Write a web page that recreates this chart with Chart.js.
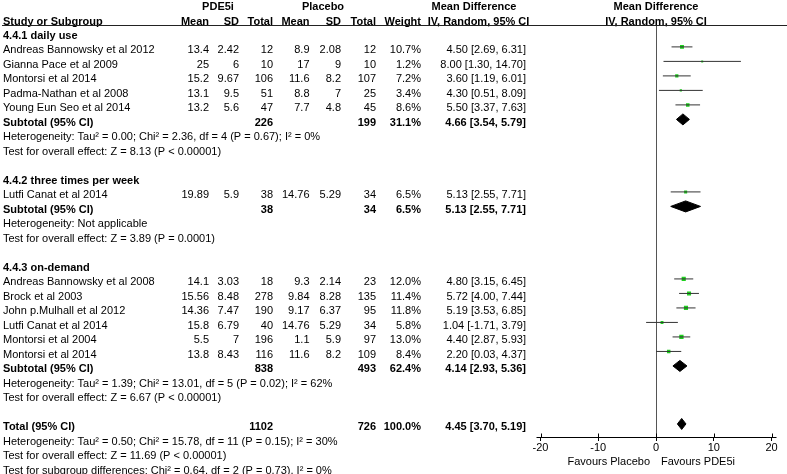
<!DOCTYPE html>
<html>
<head>
<meta charset="utf-8">
<script src="https://cdn.jsdelivr.net/npm/chart.js@4.4.0/dist/chart.umd.min.js"></script>
<style>
  html, body { margin: 0; padding: 0; background: #fff; }
  #wrap { width: 787px; height: 474px; position: relative; }
</style>
</head>
<body>
<div id="wrap"><canvas id="chart"></canvas></div>
<script>
// studies (row = line index in the table)
const studyNames = [
  'Andreas Bannowsky et al 2012', 'Gianna Pace et al 2009', 'Montorsi et al 2014',
  'Padma-Nathan et al 2008', 'Young Eun Seo et al 2014',
  'Lutfi Canat et al 2014',
  'Andreas Bannowsky et al 2008', 'Brock et al 2003', 'John p.Mulhall et al 2012',
  'Lutfi Canat et al 2014', 'Montorsi et al 2004', 'Montorsi et al 2014'
];
const studyRows = [1, 2, 3, 4, 5, 11, 17, 18, 19, 20, 21, 22];
const pdeMean = [13.4, 25, 15.2, 13.1, 13.2, 19.89, 14.1, 15.56, 14.36, 15.8, 5.5, 13.8];
const pdeSD = [2.42, 6, 9.67, 9.5, 5.6, 5.9, 3.03, 8.48, 7.47, 6.79, 7, 8.43];
const pdeTotal = [12, 10, 106, 51, 47, 38, 18, 278, 190, 40, 196, 116];
const plaMean = [8.9, 17, 11.6, 8.8, 7.7, 14.76, 9.3, 9.84, 9.17, 14.76, 1.1, 11.6];
const plaSD = [2.08, 9, 8.2, 7, 4.8, 5.29, 2.14, 8.28, 6.37, 5.29, 5.9, 8.2];
const plaTotal = [12, 10, 107, 25, 45, 34, 23, 135, 95, 34, 97, 109];
const weights = [10.7, 1.2, 7.2, 3.4, 8.6, 6.5, 12.0, 11.4, 11.8, 5.8, 13.0, 8.4];
const meanDiff = [4.50, 8.00, 3.60, 4.30, 5.50, 5.13, 4.80, 5.72, 5.19, 1.04, 4.40, 2.20];
const ciLow = [2.69, 1.30, 1.19, 0.51, 3.37, 2.55, 3.15, 4.00, 3.53, -1.71, 2.87, 0.03];
const ciHigh = [6.31, 14.70, 6.01, 8.09, 7.63, 7.71, 6.45, 7.44, 6.85, 3.79, 5.93, 4.37];

// subtotals and total
const pooledLabels = ['Subtotal (95% CI)', 'Subtotal (95% CI)', 'Subtotal (95% CI)', 'Total (95% CI)'];
const pooledRows = [6, 12, 23, 27];
const pooledPdeTotal = [226, 38, 838, 1102];
const pooledPlaTotal = [199, 34, 493, 726];
const pooledWeight = [31.1, 6.5, 62.4, 100.0];
const pooledMd = [4.66, 5.13, 4.14, 4.45];
const pooledLow = [3.54, 2.55, 2.93, 3.70];
const pooledHigh = [5.79, 7.71, 5.36, 5.19];

const groupTitles = ['4.4.1 daily use', '4.4.2 three times per week', '4.4.3 on-demand'];
const groupRows = [0, 10, 16];

const noteTexts = [
  'Heterogeneity: Tau² = 0.00; Chi² = 2.36, df = 4 (P = 0.67); I² = 0%',
  'Test for overall effect: Z = 8.13 (P < 0.00001)',
  'Heterogeneity: Not applicable',
  'Test for overall effect: Z = 3.89 (P = 0.0001)',
  'Heterogeneity: Tau² = 1.39; Chi² = 13.01, df = 5 (P = 0.02); I² = 62%',
  'Test for overall effect: Z = 6.67 (P < 0.00001)',
  'Heterogeneity: Tau² = 0.50; Chi² = 15.78, df = 11 (P = 0.15); I² = 30%',
  'Test for overall effect: Z = 11.69 (P < 0.00001)',
  'Test for subgroup differences: Chi² = 0.64, df = 2 (P = 0.73), I² = 0%'
];
const noteRows = [7, 8, 13, 14, 24, 25, 28, 29, 30];

const xTicks = [-20, -10, 0, 10, 20];

const FONT = '"Liberation Sans", Arial, sans-serif';
const DIAMOND_H = 0.38; // половина высоты ромба, в строках
const TEXT_DY = 3.5;    // текст в строке чуть ниже маркеров

const fmtCI = (m, l, h) => m.toFixed(2) + ' [' + l.toFixed(2) + ', ' + h.toFixed(2) + ']';

// Наборы данных: линии ДИ, квадраты, ромбы
const datasets = [];
studyRows.forEach((r, i) => {
  datasets.push({
    data: [{ x: ciLow[i], y: r }, { x: ciHigh[i], y: r }],
    showLine: true, borderColor: '#333', borderWidth: 1, pointRadius: 0
  });
});
datasets.push({
  data: studyRows.map((r, i) => ({ x: meanDiff[i], y: r })),
  pointStyle: 'rect',
  pointRadius: weights.map(w => Math.max(2, 1.2 * Math.sqrt(w)) / Math.SQRT2),
  backgroundColor: '#1ed21e', borderWidth: 0
});
pooledRows.forEach((r, i) => {
  datasets.push({
    data: [
      { x: pooledLow[i], y: r }, { x: pooledMd[i], y: r - DIAMOND_H },
      { x: pooledHigh[i], y: r }, { x: pooledMd[i], y: r + DIAMOND_H },
      { x: pooledLow[i], y: r }
    ],
    showLine: true, fill: 'shape', borderColor: '#000', backgroundColor: '#000',
    borderWidth: 1, pointRadius: 0, tension: 0
  });
});

// Текст таблицы и детали оси
const tablePlugin = {
  id: 'table',
  afterDraw(chart) {
    const ctx = chart.ctx;
    const ys = chart.scales.y;
    const xs = chart.scales.x;
    const area = chart.chartArea;
    const col = { pM: 209, pSD: 239, pT: 273, cM: 309.5, cSD: 341, cT: 376, w: 421, ci: 526 };
    const put = (s, x, y, align, bold) => {
      ctx.font = (bold ? 'bold ' : '') + '11px ' + FONT;
      ctx.textAlign = align;
      ctx.fillText(String(s), x, y);
    };
    const rowY = r => ys.getPixelForValue(r) + TEXT_DY;
    ctx.save();
    ctx.fillStyle = '#000';
    ctx.textBaseline = 'middle';

    // шапка
    put('PDE5i', 218, 7, 'center', true);
    put('Placebo', 323, 7, 'center', true);
    put('Mean Difference', 474, 7, 'center', true);
    put('Mean Difference', 656, 7, 'center', true);
    put('Study or Subgroup', 3, 21.5, 'left', true);
    put('Mean', col.pM, 21.5, 'right', true);
    put('SD', col.pSD, 21.5, 'right', true);
    put('Total', col.pT, 21.5, 'right', true);
    put('Mean', col.cM, 21.5, 'right', true);
    put('SD', col.cSD, 21.5, 'right', true);
    put('Total', col.cT, 21.5, 'right', true);
    put('Weight', col.w, 21.5, 'right', true);
    put('IV, Random, 95% CI', 478.5, 21.5, 'center', true);
    put('IV, Random, 95% CI', 656, 21.5, 'center', true);

    groupRows.forEach((r, i) => put(groupTitles[i], 3, rowY(r), 'left', true));

    studyRows.forEach((r, i) => {
      const y = rowY(r);
      put(studyNames[i], 3, y, 'left', false);
      put(pdeMean[i], col.pM, y, 'right', false);
      put(pdeSD[i], col.pSD, y, 'right', false);
      put(pdeTotal[i], col.pT, y, 'right', false);
      put(plaMean[i], col.cM, y, 'right', false);
      put(plaSD[i], col.cSD, y, 'right', false);
      put(plaTotal[i], col.cT, y, 'right', false);
      put(weights[i].toFixed(1) + '%', col.w, y, 'right', false);
      put(fmtCI(meanDiff[i], ciLow[i], ciHigh[i]), col.ci, y, 'right', false);
    });

    pooledRows.forEach((r, i) => {
      const y = rowY(r);
      put(pooledLabels[i], 3, y, 'left', true);
      put(pooledPdeTotal[i], col.pT, y, 'right', true);
      put(pooledPlaTotal[i], col.cT, y, 'right', true);
      put(pooledWeight[i].toFixed(1) + '%', col.w, y, 'right', true);
      put(fmtCI(pooledMd[i], pooledLow[i], pooledHigh[i]), col.ci, y, 'right', true);
    });

    noteRows.forEach((r, i) => put(noteTexts[i], 3, rowY(r), 'left', false));

    // подписи под осью
    put('Favours Placebo', 650, 462, 'right', false);
    put('Favours PDE5i', 661, 462, 'left', false);

    // линия под шапкой
    ctx.strokeStyle = '#222';
    ctx.lineWidth = 1;
    ctx.beginPath();
    ctx.moveTo(2, Math.round(area.top) + 0.5);
    ctx.lineTo(787, Math.round(area.top) + 0.5);
    ctx.stroke();

    // ось X чуть длиннее, засечки вверх
    const ay = Math.round(area.bottom) + 0.5;
    ctx.strokeStyle = '#000';
    ctx.beginPath();
    ctx.moveTo(area.left - 4, ay);
    ctx.lineTo(area.right + 5, ay);
    xs.ticks.forEach(t => {
      const px = Math.round(xs.getPixelForValue(t.value)) + 0.5;
      ctx.moveTo(px, ay - 4);
      ctx.lineTo(px, ay);
    });
    ctx.stroke();
    ctx.restore();
  }
};

new Chart(document.getElementById('chart'), {
  type: 'scatter',
  data: { datasets: datasets },
  options: {
    responsive: true,
    maintainAspectRatio: false,
    animation: false,
    events: [],
    layout: { padding: { left: 540.5, right: 15.5, top: 25, bottom: 0 } },
    plugins: { legend: { display: false }, tooltip: { enabled: false } },
    scales: {
      x: {
        type: 'linear',
        min: -20,
        max: 20,
        afterBuildTicks: s => { s.ticks = xTicks.map(v => ({ value: v })); },
        afterFit: s => { s.height = 37; },
        ticks: { color: '#000', padding: 0, font: { family: FONT, size: 11 } },
        grid: {
          drawOnChartArea: true,
          color: c => (c.tick && c.tick.value === 0 ? '#555' : 'rgba(0,0,0,0)'),
          tickColor: '#000',
          tickLength: 4
        },
        border: { display: true, color: '#000' }
      },
      y: {
        type: 'linear',
        reverse: true,
        min: -0.51,
        max: 27.9,
        display: false
      }
    }
  },
  plugins: [tablePlugin]
});
</script>
</body>
</html>
